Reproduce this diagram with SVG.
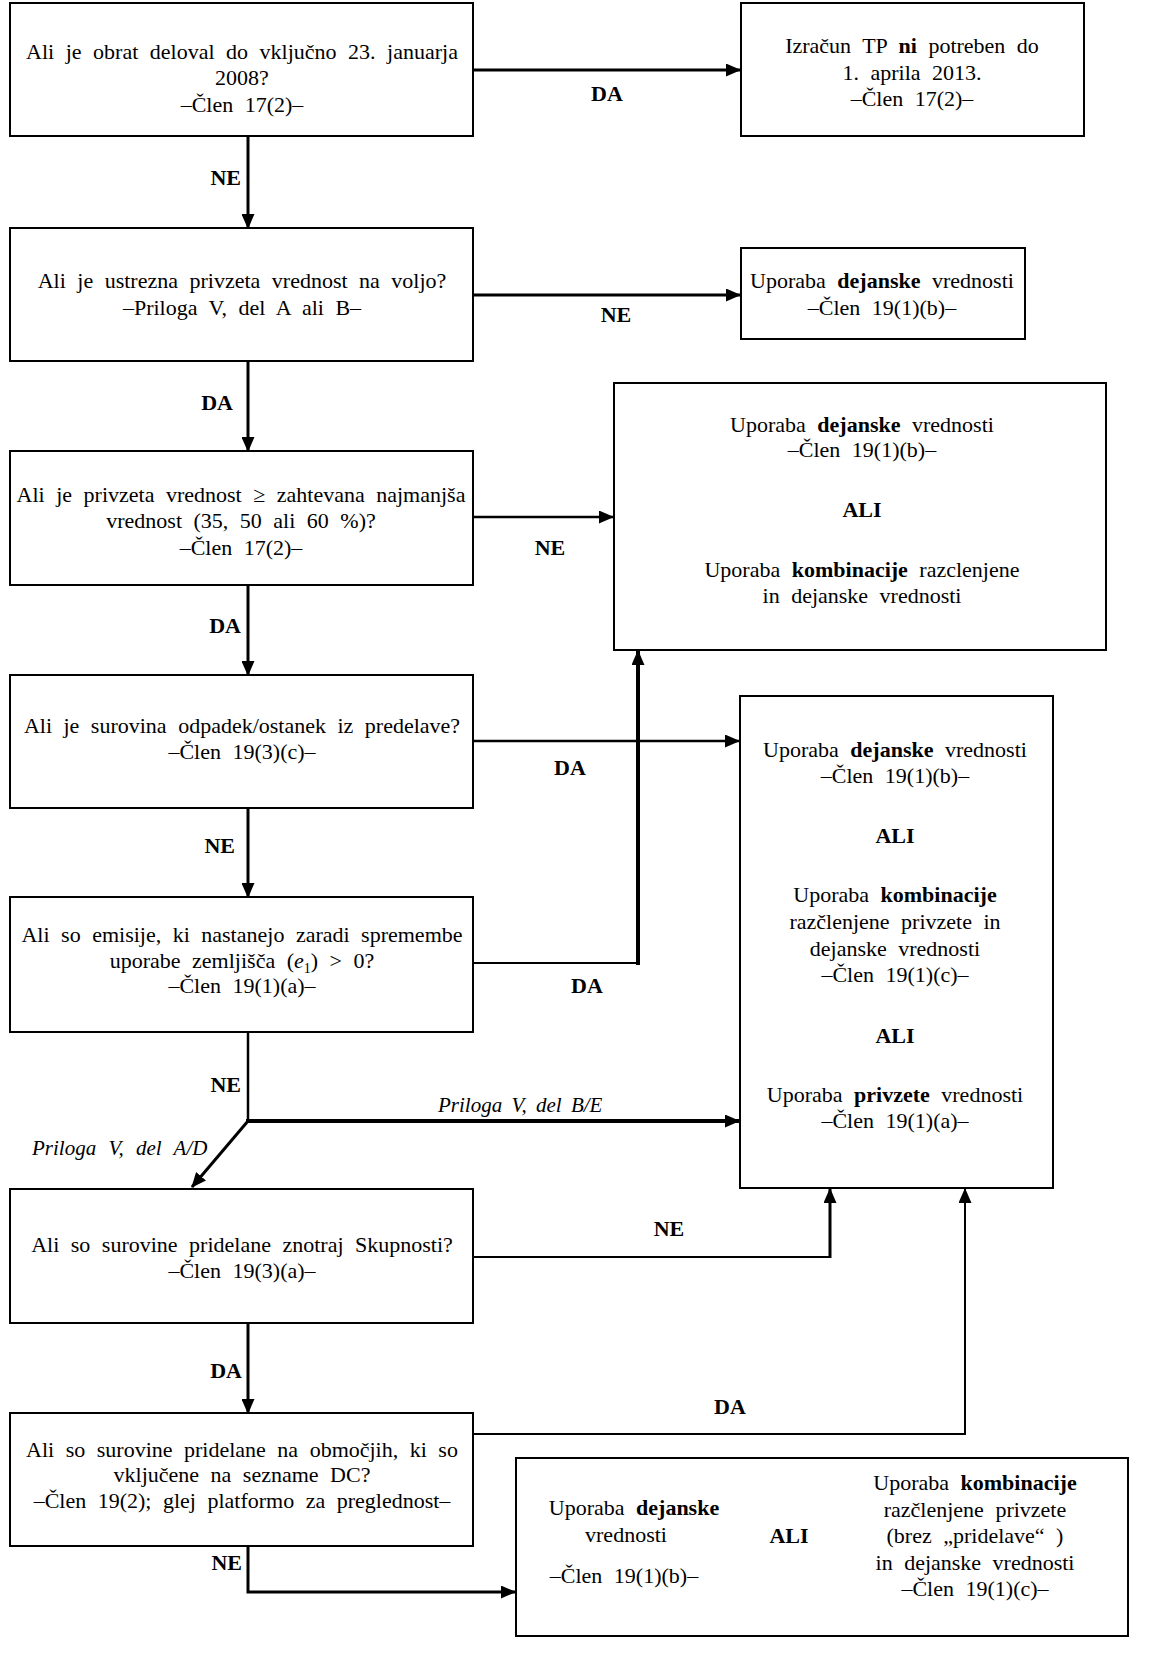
<svg xmlns="http://www.w3.org/2000/svg" width="1149" height="1666" viewBox="0 0 1149 1666">
<style>
  .box { fill: #ffffff; stroke: #000000; stroke-width: 2; }
  .t { font-family: "Liberation Serif", "Times New Roman", serif; font-size: 22px; word-spacing: 6px; fill: #000; text-anchor: middle; }
  .b { font-weight: bold; }
  .i { font-style: italic; }
  .lbl { font-family: "Liberation Serif", "Times New Roman", serif; font-size: 22px; font-weight: bold; fill: #000; }
  .it { font-family: "Liberation Serif", "Times New Roman", serif; font-size: 21px; font-style: italic; word-spacing: 4px; fill: #000; }
  .c { fill: none; stroke: #000; stroke-width: 3; }
  .thin { stroke-width: 2; }
  .thick { stroke-width: 4; }
  .arr { marker-end: url(#ah); }
</style>
<defs>
  <marker id="ah" markerUnits="userSpaceOnUse" markerWidth="15" markerHeight="13" refX="14" refY="6.5" orient="auto">
    <path d="M0,0 L15,6.5 L0,13 z" fill="#000"/>
  </marker>
</defs>
<rect width="1149" height="1666" fill="#ffffff"/>

<g id="connectors">
  <path class="c arr" d="M473,70 H740"/>
  <path class="c arr" d="M248,136 V228"/>
  <path class="c arr" d="M473,295 H740"/>
  <path class="c arr" d="M248,361 V451"/>
  <path class="c arr" style="stroke-width:2.5" d="M473,517 H613"/>
  <path class="c arr" d="M248,585 V675"/>
  <path class="c arr" style="stroke-width:2.5" d="M473,741 H739"/>
  <path class="c arr" d="M248,808 V897"/>
  <path class="c thin" d="M473,963 H638"/>
  <path class="c thick arr" d="M638,965 V651"/>
  <path class="c" style="stroke-width:2.5" d="M248,1032 V1121"/>
  <path class="c thick arr" d="M246,1121 H739"/>
  <path class="c arr" d="M248,1121 L192,1187"/>
  <path class="c thin" d="M473,1257 H830"/>
  <path class="c arr" d="M830,1258 V1189"/>
  <path class="c arr" d="M248,1323 V1413"/>
  <path class="c thin arr" d="M473,1434 H965 V1189"/>
  <path class="c arr" d="M248,1546 V1592 H515"/>
</g>

<g id="labels">
  <text class="lbl" x="607" y="101" text-anchor="middle">DA</text>
  <text class="lbl" x="241" y="185" text-anchor="end">NE</text>
  <text class="lbl" x="616" y="322" text-anchor="middle">NE</text>
  <text class="lbl" x="233" y="410" text-anchor="end">DA</text>
  <text class="lbl" x="550" y="555" text-anchor="middle">NE</text>
  <text class="lbl" x="241" y="633" text-anchor="end">DA</text>
  <text class="lbl" x="570" y="775" text-anchor="middle">DA</text>
  <text class="lbl" x="235" y="853" text-anchor="end">NE</text>
  <text class="lbl" x="587" y="993" text-anchor="middle">DA</text>
  <text class="lbl" x="241" y="1092" text-anchor="end">NE</text>
  <text class="it" x="438" y="1112">Priloga V, del B/E</text>
  <text class="it" x="32" y="1155" style="word-spacing:7px">Priloga V, del A/D</text>
  <text class="lbl" x="669" y="1236" text-anchor="middle">NE</text>
  <text class="lbl" x="242" y="1378" text-anchor="end">DA</text>
  <text class="lbl" x="730" y="1414" text-anchor="middle">DA</text>
  <text class="lbl" x="242" y="1570" text-anchor="end">NE</text>
</g>

<g id="q1">
  <rect class="box" x="10" y="3" width="463" height="133"/>
  <text class="t" x="242" y="59">Ali je obrat deloval do vključno 23. januarja</text>
  <text class="t" x="242" y="85">2008?</text>
  <text class="t" x="242" y="112">–Člen 17(2)–</text>
</g>

<g id="r1">
  <rect class="box" x="741" y="3" width="343" height="133"/>
  <text class="t" x="912" y="53">Izračun TP <tspan class="b">ni</tspan> potreben do</text>
  <text class="t" x="912" y="80">1. aprila 2013.</text>
  <text class="t" x="912" y="106">–Člen 17(2)–</text>
</g>

<g id="q2">
  <rect class="box" x="10" y="228" width="463" height="133"/>
  <text class="t" x="242" y="288">Ali je ustrezna privzeta vrednost na voljo?</text>
  <text class="t" x="242" y="315">–Priloga V, del A ali B–</text>
</g>

<g id="r2">
  <rect class="box" x="741" y="248" width="284" height="91"/>
  <text class="t" x="882" y="288">Uporaba <tspan class="b">dejanske</tspan> vrednosti</text>
  <text class="t" x="882" y="315">–Člen 19(1)(b)–</text>
</g>

<g id="q3">
  <rect class="box" x="10" y="451" width="463" height="134"/>
  <text class="t" x="241" y="502">Ali je privzeta vrednost ≥ zahtevana najmanjša</text>
  <text class="t" x="241" y="528">vrednost (35, 50 ali 60 %)?</text>
  <text class="t" x="241" y="555">–Člen 17(2)–</text>
</g>

<g id="r3">
  <rect class="box" x="614" y="383" width="492" height="267"/>
  <text class="t" x="862" y="432">Uporaba <tspan class="b">dejanske</tspan> vrednosti</text>
  <text class="t" x="862" y="457">–Člen 19(1)(b)–</text>
  <text class="t b" x="862" y="517">ALI</text>
  <text class="t" x="862" y="577">Uporaba <tspan class="b">kombinacije</tspan> razclenjene</text>
  <text class="t" x="862" y="603">in dejanske vrednosti</text>
</g>

<g id="q4">
  <rect class="box" x="10" y="675" width="463" height="133"/>
  <text class="t" x="242" y="733">Ali je surovina odpadek/ostanek iz predelave?</text>
  <text class="t" x="242" y="759">–Člen 19(3)(c)–</text>
</g>

<g id="r4">
  <rect class="box" x="740" y="696" width="313" height="492"/>
  <text class="t" x="895" y="757">Uporaba <tspan class="b">dejanske</tspan> vrednosti</text>
  <text class="t" x="895" y="783">–Člen 19(1)(b)–</text>
  <text class="t b" x="895" y="843">ALI</text>
  <text class="t" x="895" y="902">Uporaba <tspan class="b">kombinacije</tspan></text>
  <text class="t" x="895" y="929">razčlenjene privzete in</text>
  <text class="t" x="895" y="956">dejanske vrednosti</text>
  <text class="t" x="895" y="982">–Člen 19(1)(c)–</text>
  <text class="t b" x="895" y="1043">ALI</text>
  <text class="t" x="895" y="1102">Uporaba <tspan class="b">privzete</tspan> vrednosti</text>
  <text class="t" x="895" y="1128">–Člen 19(1)(a)–</text>
</g>

<g id="q5">
  <rect class="box" x="10" y="897" width="463" height="135"/>
  <text class="t" x="242" y="942">Ali so emisije, ki nastanejo zaradi spremembe</text>
  <text class="t" x="242" y="968">uporabe zemljišča (<tspan class="i">e</tspan><tspan dy="5" font-size="14">1</tspan><tspan dy="-5">) &gt; 0?</tspan></text>
  <text class="t" x="242" y="993">–Člen 19(1)(a)–</text>
</g>

<g id="q6">
  <rect class="box" x="10" y="1189" width="463" height="134"/>
  <text class="t" x="242" y="1252">Ali so surovine pridelane znotraj Skupnosti?</text>
  <text class="t" x="242" y="1278">–Člen 19(3)(a)–</text>
</g>

<g id="q7">
  <rect class="box" x="10" y="1413" width="463" height="133"/>
  <text class="t" x="242" y="1457">Ali so surovine pridelane na območjih, ki so</text>
  <text class="t" x="242" y="1482">vključene na sezname DC?</text>
  <text class="t" x="242" y="1508">–Člen 19(2); glej platformo za preglednost–</text>
</g>

<g id="r5">
  <rect class="box" x="516" y="1458" width="612" height="178"/>
  <text class="t" x="634" y="1515">Uporaba <tspan class="b">dejanske</tspan></text>
  <text class="t" x="626" y="1542">vrednosti</text>
  <text class="t" x="624" y="1583">–Člen 19(1)(b)–</text>
  <text class="t b" x="789" y="1543">ALI</text>
  <text class="t" x="975" y="1490">Uporaba <tspan class="b">kombinacije</tspan></text>
  <text class="t" x="975" y="1517">razčlenjene privzete</text>
  <text class="t" x="975" y="1543">(brez „pridelave“ )</text>
  <text class="t" x="975" y="1570">in dejanske vrednosti</text>
  <text class="t" x="975" y="1596">–Člen 19(1)(c)–</text>
</g>
</svg>
